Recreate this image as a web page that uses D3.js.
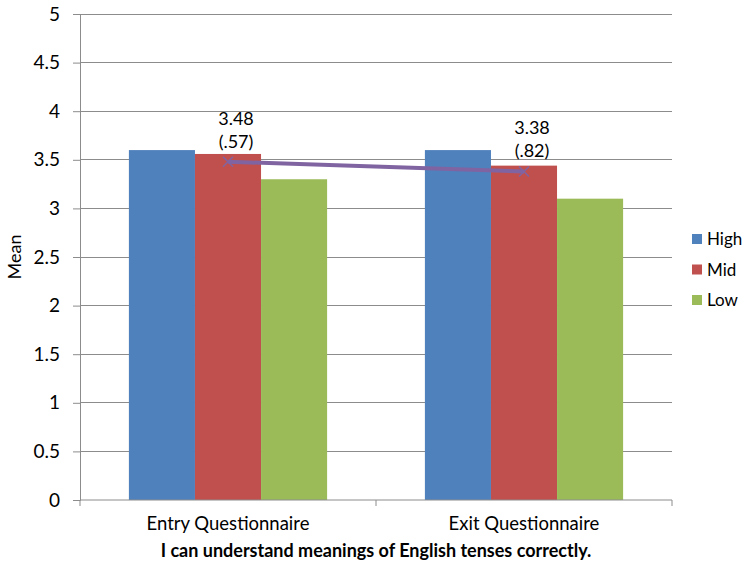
<!DOCTYPE html>
<html><head><meta charset="utf-8">
<script src="https://cdn.jsdelivr.net/npm/d3@7"></script>
<style>body{margin:0;background:#fff}svg{display:block}text{font-family:Lato,"Open Sans",sans-serif}</style>
</head><body>
<svg id="c" width="746" height="567"></svg>
<script>
const categories = ["Entry Questionnaire", "Exit Questionnaire"];
const groups = ["High", "Mid", "Low"];
const high = [3.6, 3.6];
const mid = [3.56, 3.44];
const low = [3.3, 3.1];
const overall = [3.48, 3.38];
const sdLabels = ["(.57)", "(.82)"];
const yTicks = [0, 0.5, 1, 1.5, 2, 2.5, 3, 3.5, 4, 4.5, 5];
const colors = ["#4F81BD", "#C0504D", "#9BBB59"];
const xTitle = "I can understand meanings of English tenses correctly.";
const yTitle = "Mean";

const svg = d3.select("#c");
const L = 80, R = 672, T = 14, B = 500;
const x = d3.scaleBand().domain(categories).range([L, R]).paddingInner(0).paddingOuter(0);
const xs = d3.scaleBand().domain(groups).range([0, x.bandwidth()]).paddingInner(0).paddingOuter(0.74);
const y = d3.scaleLinear().domain([0, 5]).range([B, T]);
const series = [high, mid, low];

// gridlines
svg.append("g").selectAll("line").data(yTicks.filter(d => d > 0)).join("line")
  .attr("x1", L).attr("x2", R).attr("y1", d => y(d)).attr("y2", d => y(d))
  .attr("stroke", "#8c8c8c").attr("stroke-width", 1).attr("shape-rendering", "crispEdges");

// bars
groups.forEach((g, gi) => {
  svg.append("g").selectAll("rect").data(categories).join("rect")
    .attr("x", (c) => x(c) + xs(g))
    .attr("width", xs.bandwidth())
    .attr("y", (c, i) => y(series[gi][i]))
    .attr("height", (c, i) => B - y(series[gi][i]))
    .attr("fill", colors[gi]);
});

// y axis
const yAxis = d3.axisLeft(y).tickValues(yTicks).tickSize(7).tickPadding(13).tickFormat(d3.format("~g"));
const gy = svg.append("g").attr("transform", `translate(${L},0)`).call(yAxis);
gy.select(".domain").attr("stroke", "#8c8c8c");
gy.selectAll(".tick line").attr("stroke", "#8c8c8c");
gy.selectAll("text").attr("font-size", 19).attr("fill", "#000");

// x axis
const gx = svg.append("g").attr("transform", `translate(0,${B})`);
gx.append("line").attr("x1", L).attr("x2", R).attr("stroke", "#8c8c8c");
[L, L + x.bandwidth(), R].forEach(v => gx.append("line").attr("x1", v).attr("x2", v).attr("y1", 0).attr("y2", 6).attr("stroke", "#8c8c8c"));
gx.selectAll("text.cat").data(categories).join("text").attr("class", "cat")
  .attr("x", d => x(d) + x.bandwidth() / 2).attr("y", 30).attr("text-anchor", "middle")
  .attr("font-size", 18.5).text(d => d);

// line series
const lx = (i) => x(categories[i]) + xs("Mid") + xs.bandwidth() / 2;
const line = d3.line().x((d, i) => lx(i)).y(d => y(d));
svg.append("path").datum(overall).attr("d", line).attr("fill", "none")
  .attr("stroke", "#8064A2").attr("stroke-width", 4);
overall.forEach((v, i) => {
  const cx = lx(i), cy = y(v), s = 5;
  svg.append("path").attr("d", `M${cx - s},${cy - s}L${cx + s},${cy + s}M${cx - s},${cy + s}L${cx + s},${cy - s}`)
    .attr("stroke", "#8064A2").attr("stroke-width", 1.5);
  svg.append("text").attr("x", cx + 8).attr("y", cy - 37).attr("text-anchor", "middle").attr("font-size", 18).text(d3.format(".2f")(v));
  svg.append("text").attr("x", cx + 8).attr("y", cy - 14).attr("text-anchor", "middle").attr("font-size", 18).text(sdLabels[i]);
});

// titles
svg.append("text").attr("transform", `translate(21,${(T + B) / 2}) rotate(-90)`).attr("text-anchor", "middle")
  .attr("font-size", 18).text(yTitle);
svg.append("text").attr("x", 376).attr("y", 557).attr("text-anchor", "middle")
  .attr("font-size", 18).attr("font-weight", "bold").text(xTitle);

// legend
const leg = svg.append("g").selectAll("g").data(groups).join("g")
  .attr("transform", (d, i) => `translate(692,${239 + i * 30.5})`);
leg.append("rect").attr("x", 0).attr("y", -5).attr("width", 10).attr("height", 10).attr("fill", (d, i) => colors[i]);
leg.append("text").attr("x", 15).attr("y", 6).attr("font-size", 17).text(d => d);
</script>
</body></html>
